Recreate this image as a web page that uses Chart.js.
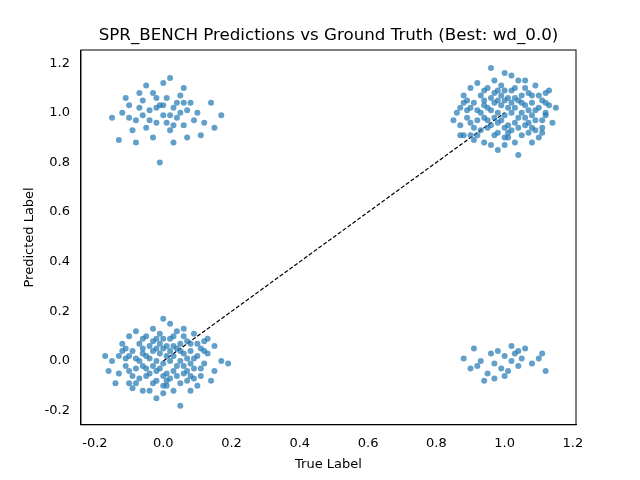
<!DOCTYPE html>
<html>
<head>
<meta charset="utf-8">
<script src="https://cdn.jsdelivr.net/npm/chart.js@4"></script>
<style>
  body { margin: 0; background: #fff; }
  #wrap { width: 640px; height: 480px; }
</style>
</head>
<body>
<div id="wrap"><canvas id="chart" width="640" height="480"></canvas></div>
<script>
// predictions, one list per cluster
const truth0pred0 = [
  [-0.1,0.02],[-0.08,-0.03],[-0.06,0.05],[-0.05,-0.06],[-0.04,0.01],[-0.03,0.08],[-0.02,-0.04],[-0.01,0.03],
  [0,-0.01],[0.01,0.06],[0.02,-0.07],[0.03,0.02],[0.04,-0.02],[0.05,0.07],[0.06,-0.05],[0.07,0.01],
  [0.08,0.04],[0.09,-0.03],[0.1,0.02],[-0.09,-0.06],[-0.07,0.07],[-0.05,0.1],[-0.03,-0.09],[-0.01,0.11],
  [0.01,-0.1],[0.03,0.1],[0.05,-0.09],[0.07,0.08],[0.09,-0.07],[0.11,0.05],[-0.11,-0.02],[-0.12,0.04],
  [0.12,-0.01],[0.13,0.03],[-0.13,-0.05],[-0.15,0.0],[0.15,-0.04],[0.17,0.0],[-0.17,0.02],[0.02,0.15],
  [-0.02,-0.15],[0.06,0.13],[-0.06,-0.12],[0.1,-0.1],[-0.1,0.1],[0.0,0.17],[0.05,-0.18],[-0.14,-0.09],
  [0.13,0.09],[0.14,-0.08],[-0.08,0.12],[0.08,-0.12],[-0.04,-0.12],[0.04,0.12],[-0.07,0.0],[0.07,-0.08],
  [0.0,0.05],[0.0,-0.06],[-0.02,0.0],[0.02,0.0],[0.04,0.05],[-0.04,-0.05],[0.06,0.03],[-0.06,-0.02],
  [0.08,-0.01],[-0.08,0.01],[0.1,0.07],[-0.1,-0.09],[0.12,0.08],[-0.12,0.07],[0.03,-0.12],[-0.03,0.13],
  [0.11,-0.06],[-0.11,0.05],[0.15,0.06],[-0.16,-0.04],[0.19,-0.01],[0.09,0.11],[-0.09,-0.11],[0.0,-0.13],
  [-0.01,-0.03],[0.01,0.02],[-0.03,0.04],[0.03,-0.04],[-0.05,0.02],[0.05,0.0],[0.02,0.09],[-0.02,-0.08],
  [-0.07,-0.07],[-0.06,0.09],[-0.04,0.06],[-0.02,0.05],[0.0,0.09],[0.01,-0.05],[0.03,0.06],[0.05,0.04],
  [0.06,-0.02],[0.08,0.07],[0.09,0.01],[0.07,-0.04],[-0.09,0.04],[-0.1,-0.04],[-0.08,-0.09],[-0.05,-0.03],
  [-0.03,-0.02],[-0.01,0.07],[0.01,-0.08],[0.04,-0.06],[0.06,0.1],[-0.11,0.01],[0.11,-0.03],[-0.13,0.02],
  [0.12,0.04],[-0.06,0.03],[0.02,0.04],[-0.02,0.09],[0.0,-0.1],[0.08,-0.06]
];
const truth1pred1 = [
  [0.9,1.02],[0.92,0.97],[0.94,1.05],[0.95,0.94],[0.96,1.01],[0.97,1.08],[0.98,0.96],[0.99,1.03],
  [1.0,0.99],[1.01,1.06],[1.02,0.93],[1.03,1.02],[1.04,0.98],[1.05,1.07],[1.06,0.95],[1.07,1.01],
  [1.08,1.04],[1.09,0.97],[1.1,1.02],[0.91,0.94],[0.93,1.07],[0.95,1.1],[0.97,0.91],[0.99,1.11],
  [1.01,0.9],[1.03,1.1],[1.05,0.91],[1.07,1.08],[1.09,0.93],[1.11,1.05],[0.89,0.98],[0.88,1.04],
  [1.12,0.99],[1.13,1.03],[0.87,0.95],[0.86,1.0],[1.14,0.96],[1.12,1.0],[0.88,0.91],[1.02,1.15],
  [0.98,0.85],[1.06,1.13],[0.94,0.88],[1.1,0.9],[0.9,1.1],[1.0,1.16],[1.04,0.83],[0.87,0.91],
  [1.13,1.09],[1.11,0.92],[0.92,1.12],[1.08,0.88],[0.96,0.87],[1.04,1.13],[0.93,1.0],[1.07,0.92],
  [1.0,1.05],[1.0,0.94],[0.98,1.0],[1.02,1.0],[1.04,1.05],[0.96,0.95],[1.06,1.03],[0.94,0.98],
  [1.08,0.99],[0.92,1.01],[1.1,1.07],[0.9,0.91],[1.12,1.08],[0.88,1.07],[1.03,0.88],[0.97,1.13],
  [1.11,0.94],[0.89,1.05],[1.15,1.02],[0.85,0.97],[0.96,1.18],[1.09,1.11],[0.91,0.89],[1.0,0.87],
  [0.99,0.97],[1.01,1.02],[0.97,1.04],[1.03,0.96],[0.95,1.02],[1.05,1.0],[1.02,1.09],[0.98,0.92],
  [0.93,0.93],[0.94,1.09],[0.96,1.06],[0.98,1.05],[1.0,1.09],[1.01,0.95],[1.03,1.06],[1.05,1.04],
  [1.06,0.98],[1.08,1.07],[1.09,1.01],[1.07,0.96],[0.91,1.04],[0.9,0.96],[0.92,0.91],[0.95,0.97],
  [0.97,0.98],[0.99,1.07],[1.01,0.92],[1.04,0.94],[1.06,1.1],[0.89,1.01],[1.11,0.97],[0.87,1.02],
  [1.12,1.04],[0.94,1.03],[1.02,1.04],[0.98,1.09],[1.0,0.9],[1.08,0.94]
];
const truth0pred1 = [
  [-0.1,1.03],[-0.08,0.97],[-0.06,1.05],[-0.05,0.94],[-0.04,1.01],[-0.03,1.08],[-0.02,0.96],[-0.01,1.03],
  [0.0,0.99],[0.01,1.06],[0.02,0.93],[0.03,1.02],[0.04,0.98],[0.05,1.07],[0.06,0.95],[0.07,1.01],
  [0.08,1.04],[0.09,0.97],[-0.12,1.0],[-0.09,0.93],[-0.07,1.08],[-0.03,0.9],[0.0,1.12],[0.03,0.88],
  [0.06,1.1],[0.1,1.0],[-0.13,0.89],[-0.15,0.98],[0.12,0.96],[0.17,0.99],[0.14,1.04],[-0.01,0.8],
  [0.02,1.14],[-0.05,1.11],[0.11,0.91],[-0.02,1.02],[0.02,0.99],[-0.06,0.99],[0.04,1.04],[-0.11,1.06],
  [0.07,0.9],[-0.08,0.88],[0.15,0.94],[-0.04,0.97],[0.0,1.03],[0.01,0.96],[-0.02,1.06],[0.05,1.0],
  [-0.07,1.02],[0.03,0.95],[0.06,1.04],[-0.1,0.98]
];
const truth1pred0 = [
  [0.88,0.01],[0.9,-0.03],[0.91,0.05],[0.93,0.0],[0.95,-0.05],[0.96,0.03],[0.97,-0.01],[0.98,0.04],
  [0.99,-0.03],[1.0,0.02],[1.01,-0.04],[1.02,0.0],[1.03,0.03],[1.04,-0.02],[1.05,0.01],[0.94,-0.08],
  [1.0,-0.06],[1.06,0.05],[1.08,-0.01],[1.11,0.03],[1.12,-0.04],[0.92,-0.02],[1.02,0.06],[0.97,-0.07],
  [1.1,0.01],[1.04,0.04]
];
const diagX = [0, 1];
const diagY = [0, 1];
const xTicks = [-0.2, 0.0, 0.2, 0.4, 0.6, 0.8, 1.0, 1.2];
const yTicks = [-0.2, 0.0, 0.2, 0.4, 0.6, 0.8, 1.0, 1.2];

const dotColor = "rgba(31,119,180,0.7)";
const allPoints = truth0pred0.concat(truth1pred1, truth0pred1, truth1pred0)
  .map(p => ({ x: p[0], y: p[1] }));

new Chart(document.getElementById("chart"), {
  data: {
    datasets: [
      {
        type: "scatter",
        data: allPoints,
        backgroundColor: dotColor,
        borderColor: dotColor,
        borderWidth: 0,
        pointRadius: 3
      },
      {
        type: "line",
        data: diagX.map((x, i) => ({ x: x, y: diagY[i] })),
        borderColor: "#000",
        borderWidth: 1.2,
        borderDash: [4, 2],
        pointRadius: 0,
        fill: false
      }
    ]
  },
  options: {
    responsive: false,
    animation: false,
    layout: { padding: { left: 18, right: 64, top: 0, bottom: 0 } },
    plugins: {
      legend: { display: false },
      tooltip: { enabled: false },
      title: { display: false }
    },
    scales: {
      x: {
        type: "linear",
        min: -0.241,
        max: 1.209,
        afterBuildTicks: axis => { axis.ticks = xTicks.map(v => ({ value: v })); },
        ticks: {
          color: "#000",
          font: { family: "DejaVu Sans", size: 13 },
          callback: v => v.toFixed(1)
        },
        grid: { display: false },
        border: { color: "#000" },
        title: { display: true, text: "True Label", color: "#000", font: { family: "DejaVu Sans", size: 13 }, padding: { top: 2, bottom: 8 } }
      },
      y: {
        type: "linear",
        min: -0.257,
        max: 1.253,
        afterBuildTicks: axis => { axis.ticks = yTicks.map(v => ({ value: v })); },
        ticks: {
          color: "#000",
          font: { family: "DejaVu Sans", size: 13 },
          callback: v => v.toFixed(1)
        },
        grid: { display: false },
        border: { color: "#000" },
        title: { display: true, text: "Predicted Label", color: "#000", font: { family: "DejaVu Sans", size: 13 } }
      }
    }
  },
  plugins: [{
    id: "frameAndTitle",
    beforeLayout(chart) {
      chart.options.layout.padding.top = 58 - 8;
    },
    afterDraw(chart) {
      const a = chart.chartArea, c = chart.ctx;
      c.save();
      c.strokeStyle = "#000";
      c.lineWidth = 1;
      c.strokeRect(a.left, a.top, a.right - a.left, a.bottom - a.top);
      c.fillStyle = "#000";
      c.font = "16.7px 'DejaVu Sans'";
      c.textAlign = "center";
      c.textBaseline = "bottom";
      c.fillText("SPR_BENCH Predictions vs Ground Truth (Best: wd_0.0)", (a.left + a.right) / 2, a.top - 6);
      c.restore();
    }
  }]
});
</script>
</body>
</html>
